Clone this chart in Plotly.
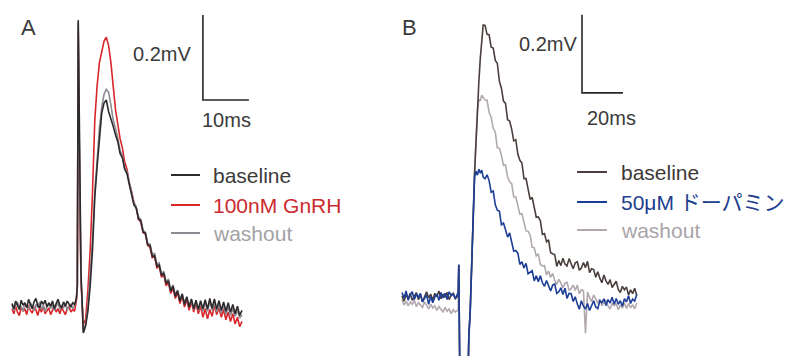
import numpy as np
import plotly.graph_objects as go

# ---------------- Panel A (ms, mV) ----------------
tA_base = np.round(np.arange(0.0, 13.61, 0.4), 2)          # 35 samples
tA_peak = [14.0, 14.2, 14.4, 14.7, 15.0, 15.5, 16.0, 16.5, 17.0, 17.5,
           18.0, 18.5, 19.0, 19.5, 20.0, 20.5, 21.0, 21.5, 22.0, 22.5]
tA_tail = np.round(np.arange(23.0, 50.01, 0.5), 2)         # 55 samples

A_baseline_base = [0.008, -0.004, 0.014, 0.002, -0.006,
                   0.016, 0.004, 0.010, -0.002, 0.018,
                   0.006, -0.004, 0.012, 0.020, 0.004,
                   -0.002, 0.014, 0.006, 0.016, 0.000,
                   0.010, 0.002, 0.014, -0.004, 0.008,
                   0.018, 0.004, -0.002, 0.012, 0.002,
                   0.014, 0.006, 0.000, 0.010, 0.006]
A_baseline_peak = [0.020, 0.050, 0.675, 0.300, 0.080, -0.061, -0.045, -0.010, 0.050, 0.134,
                   0.259, 0.330, 0.390, 0.456, 0.480, 0.487, 0.460, 0.445, 0.425, 0.405]
A_baseline_tail = [0.389, 0.361, 0.351, 0.324, 0.314,
                   0.288, 0.267, 0.240, 0.233, 0.207,
                   0.203, 0.176, 0.174, 0.146, 0.145,
                   0.119, 0.121, 0.096, 0.099, 0.074,
                   0.080, 0.055, 0.062, 0.037, 0.049,
                   0.025, 0.038, 0.014, 0.030, 0.006,
                   0.024, 0.000, 0.019, -0.004, 0.016,
                   -0.006, 0.015, -0.004, 0.017, -0.005,
                   0.020, -0.003, 0.019, -0.005, 0.015,
                   -0.008, 0.012, -0.010, 0.010, -0.012,
                   0.006, -0.016, 0.002, -0.020, -0.008]

A_gnrh_base = [-0.004, -0.016, 0.002, -0.012, -0.020,
               0.000, -0.010, -0.004, -0.018, 0.004,
               -0.008, -0.014, 0.000, -0.006, -0.020,
               -0.002, -0.012, 0.002, -0.016, -0.008,
               -0.002, -0.018, -0.006, 0.002, -0.012,
               -0.004, -0.016, 0.000, -0.010, -0.018,
               -0.004, 0.002, -0.012, -0.006, -0.010]
A_gnrh_peak = [0.015, 0.050, 0.650, 0.280, 0.060, -0.040, -0.030, 0.040, 0.134, 0.270,
               0.440, 0.520, 0.575, 0.600, 0.625, 0.635, 0.615, 0.575, 0.515, 0.465]
A_gnrh_tail = [0.430, 0.396, 0.374, 0.341, 0.324,
               0.291, 0.272, 0.246, 0.234, 0.206,
               0.200, 0.175, 0.171, 0.145, 0.140,
               0.116, 0.118, 0.092, 0.096, 0.070,
               0.076, 0.050, 0.058, 0.032, 0.044,
               0.020, 0.034, 0.008, 0.026, 0.000,
               0.018, -0.008, 0.012, -0.012, 0.008,
               -0.016, 0.002, -0.024, -0.004, -0.028,
               -0.006, -0.022, 0.004, -0.018, -0.002,
               -0.024, -0.006, -0.030, -0.012, -0.034,
               -0.016, -0.040, -0.024, -0.046, -0.034]

A_wash_base = [0.006, -0.008, 0.004, 0.012, -0.004,
               0.002, -0.010, 0.008, 0.000, -0.006,
               0.010, 0.002, -0.008, 0.006, -0.002,
               0.012, -0.006, 0.004, -0.010, 0.002,
               0.008, -0.004, 0.006, -0.008, 0.000,
               0.010, -0.006, 0.004, -0.002, 0.008,
               -0.008, 0.002, 0.006, -0.004, 0.004]
A_wash_peak = [0.020, 0.050, 0.670, 0.320, 0.070, -0.055, -0.040, 0.000, 0.070, 0.160,
               0.270, 0.350, 0.420, 0.470, 0.500, 0.512, 0.505, 0.475, 0.440, 0.420]
A_wash_tail = [0.398, 0.368, 0.356, 0.328, 0.318,
               0.294, 0.270, 0.246, 0.236, 0.212,
               0.206, 0.180, 0.176, 0.150, 0.148,
               0.124, 0.126, 0.100, 0.104, 0.078,
               0.084, 0.058, 0.066, 0.040, 0.052,
               0.028, 0.040, 0.016, 0.032, 0.008,
               0.022, 0.002, 0.016, -0.006, 0.012,
               -0.008, 0.010, -0.010, 0.012, -0.010,
               0.014, -0.008, 0.010, -0.012, 0.006,
               -0.014, 0.004, -0.018, 0.000, -0.020,
               -0.004, -0.022, -0.008, -0.026, -0.018]

# ---------------- Panel B (ms, mV) ----------------
tB_base = np.round(np.arange(0.0, 27.01, 1.0), 2)          # 28 samples
tB_peak = [27.4, 27.7, 28.0, 28.3, 32.0, 32.6, 33.3, 34.0,
           34.7, 35.4, 36.1, 36.8, 37.5, 38.2, 38.9, 39.6]
tB_tail = np.round(np.arange(40.5, 114.51, 1.0), 2)        # 75 samples

B_baseline_base = [0.006, -0.008, 0.010, -0.002, 0.012, -0.006, 0.004,
                   0.014, -0.004, 0.008, -0.010, 0.006, 0.016, 0.000,
                   0.010, -0.006, 0.012, 0.004, 0.018, -0.002, 0.010,
                   0.002, 0.014, -0.004, 0.008, 0.012, -0.002, 0.004]
B_baseline_peak = [0.004, 0.085, -0.250, -0.250, -0.250, -0.100, -0.030, 0.090,
                   0.230, 0.320, 0.400, 0.490, 0.555, 0.615, 0.660, 0.700]
B_baseline_tail = [0.699, 0.676, 0.675, 0.643, 0.641, 0.609, 0.602, 0.556, 0.538, 0.505,
                   0.499, 0.457, 0.454, 0.433, 0.403, 0.406, 0.369, 0.353, 0.346, 0.306,
                   0.306, 0.281, 0.253, 0.258, 0.228, 0.207, 0.208, 0.198, 0.163, 0.165,
                   0.144, 0.149, 0.116, 0.113, 0.111, 0.081, 0.096, 0.083, 0.102, 0.087,
                   0.082, 0.101, 0.090, 0.075, 0.090, 0.093, 0.071, 0.077, 0.091, 0.078,
                   0.094, 0.065, 0.075, 0.073, 0.053, 0.067, 0.051, 0.039, 0.059, 0.044,
                   0.035, 0.047, 0.027, 0.036, 0.043, 0.022, 0.014, 0.030, 0.021, 0.028,
                   0.008, 0.021, 0.011, 0.025, 0.007]

B_dopa_base = [0.014, 0.000, 0.018, -0.006, 0.008, 0.016, -0.004,
               0.010, 0.002, 0.012, -0.010, -0.002, 0.008, -0.016,
               0.004, -0.012, 0.002, 0.010, -0.006, 0.014, 0.000,
               0.012, -0.004, 0.016, 0.006, 0.010, -0.002, 0.010]
B_dopa_peak = [0.010, 0.085, -0.250, -0.250, -0.250, -0.100, -0.030, 0.090,
               0.230, 0.310, 0.325, 0.315, 0.330, 0.320, 0.328, 0.310]
B_dopa_tail = [0.306, 0.316, 0.301, 0.271, 0.274, 0.239, 0.225, 0.223, 0.188, 0.192,
               0.175, 0.156, 0.167, 0.139, 0.120, 0.122, 0.115, 0.086, 0.093, 0.077,
               0.089, 0.062, 0.066, 0.070, 0.044, 0.057, 0.042, 0.057, 0.039, 0.030,
               0.045, 0.033, 0.018, 0.033, 0.036, 0.012, 0.016, 0.026, 0.009, 0.025,
               -0.001, 0.012, 0.011, -0.009, 0.003, -0.015, -0.029, -0.007, -0.021, -0.028,
               -0.014, -0.032, -0.018, -0.007, -0.023, -0.027, -0.007, -0.012, -0.002, -0.019,
               -0.004, -0.013, 0.002, -0.016, -0.001, -0.016, -0.007, -0.021, -0.002, -0.010,
               0.006, -0.014, -0.003, -0.008, 0.009]

B_wash_base = [-0.004, -0.018, -0.008, -0.020, -0.010, -0.016, -0.006,
               -0.022, -0.012, -0.018, -0.024, -0.010, -0.020, -0.028,
               -0.016, -0.026, -0.020, -0.032, -0.022, -0.030, -0.036,
               -0.024, -0.034, -0.028, -0.040, -0.030, -0.036, -0.032]
B_wash_peak = [-0.032, 0.085, -0.250, -0.250, -0.250, -0.100, -0.030, 0.090,
               0.230, 0.320, 0.400, 0.480, 0.510, 0.505, 0.520, 0.515]
B_wash_tail = [0.508, 0.507, 0.476, 0.463, 0.435, 0.425, 0.385, 0.384, 0.366, 0.340,
               0.341, 0.311, 0.298, 0.293, 0.259, 0.259, 0.238, 0.215, 0.216, 0.190,
               0.172, 0.171, 0.161, 0.130, 0.129, 0.108, 0.113, 0.086, 0.082, 0.083,
               0.059, 0.069, 0.053, 0.063, 0.045, 0.035, 0.048, 0.038, 0.026, 0.038,
               0.040, 0.020, 0.024, 0.033, 0.019, 0.033, 0.011, 0.021, 0.019, -0.090,
               0.015, 0.001, -0.009, 0.008, -0.005, -0.013, -0.003, -0.020, -0.011, -0.005,
               -0.021, -0.028, -0.014, -0.020, -0.014, -0.030, -0.018, -0.026, -0.012, -0.027,
               -0.014, -0.025, -0.017, -0.028, -0.013]

# scale bars (ms, mV)
A_scale_t, A_scale_v = 10, 0.2
B_scale_t, B_scale_v = 20, 0.2

legend_A = ["baseline", "100nM GnRH", "washout"]
legend_B = ["baseline", "50μM ドーパミン", "washout"]

colA = {"baseline": "#2e292c", "gnrh": "#d9262b", "wash": "#8e8a92"}
colB = {"baseline": "#4a3f3c", "dopa": "#1d3e97", "wash": "#b2a9af"}

W, H = 787, 356
FONT = "Liberation Sans, Arial, Noto Sans CJK JP, sans-serif"


def px(x):
    return x / W


def py(y):
    return 1 - y / H


tA = list(tA_base) + tA_peak + list(tA_tail)
tB = list(tB_base) + tB_peak + list(tB_tail)

fig = go.Figure()


def trace(t, v, color, xa, ya, w=1.6):
    fig.add_trace(go.Scatter(x=t, y=v, mode="lines", xaxis=xa, yaxis=ya,
                             line=dict(color=color, width=w), showlegend=False,
                             hoverinfo="skip"))


trace(tA, A_gnrh_base + A_gnrh_peak + A_gnrh_tail, colA["gnrh"], "x", "y")
trace(tA, A_wash_base + A_wash_peak + A_wash_tail, colA["wash"], "x", "y")
trace(tA, A_baseline_base + A_baseline_peak + A_baseline_tail, colA["baseline"], "x", "y")

trace(tB, B_wash_base + B_wash_peak + B_wash_tail, colB["wash"], "x2", "y2")
trace(tB, B_baseline_base + B_baseline_peak + B_baseline_tail, colB["baseline"], "x2", "y2")
trace(tB, B_dopa_base + B_dopa_peak + B_dopa_tail, colB["dopa"], "x2", "y2")

# scale bars
a_t0, a_v0 = 41.5, 0.487
fig.add_trace(go.Scatter(x=[a_t0, a_t0, a_t0 + A_scale_t], y=[a_v0 + A_scale_v, a_v0, a_v0],
                         mode="lines", line=dict(color="#2a2626", width=1.6),
                         xaxis="x", yaxis="y", showlegend=False, hoverinfo="skip"))
b_t0, b_v0 = 87.8, 0.526
fig.add_trace(go.Scatter(x=[b_t0, b_t0, b_t0 + B_scale_t], y=[b_v0 + B_scale_v, b_v0, b_v0],
                         mode="lines", line=dict(color="#2a2626", width=1.6),
                         xaxis="x2", yaxis="y2", showlegend=False, hoverinfo="skip"))

ann = []


def text(x, y, s, color="#3a3a3a", size=20, anchor="center"):
    ann.append(dict(x=px(x), y=py(y), xref="paper", yref="paper", text=s,
                    showarrow=False, xanchor=anchor, yanchor="middle",
                    font=dict(family=FONT, size=size, color=color)))


text(29, 27, "A", size=22)
text(409, 27, "B", size=22)
text(162, 54, "0.2mV")
text(226, 120, "10ms")
text(548, 44, "0.2mV")
text(611, 118, "20ms")

shapes = []
legA_y = [175, 205, 233]
legA_c = [colA["baseline"], colA["gnrh"], colA["wash"]]
legA_tc = ["#3a3a3a", "#cc2a2f", "#a2a2a6"]
for lab, y, c, tc in zip(legend_A, legA_y, legA_c, legA_tc):
    shapes.append(dict(type="line", xref="paper", yref="paper", x0=px(171), x1=px(200),
                       y0=py(y), y1=py(y), line=dict(color=c, width=2)))
    text(211, y, lab, color=tc, size=21, anchor="left")

legB_y = [172, 202, 230]
legB_c = [colB["baseline"], colB["dopa"], colB["wash"]]
legB_tc = ["#3d3836", "#223e8e", "#a8a4a8"]
for lab, y, c, tc in zip(legend_B, legB_y, legB_c, legB_tc):
    shapes.append(dict(type="line", xref="paper", yref="paper", x0=px(577), x1=px(607),
                       y0=py(y), y1=py(y), line=dict(color=c, width=2)))
    text(619, y, lab, color=tc, size=21, anchor="left")

ax_common = dict(visible=False, showgrid=False, zeroline=False, fixedrange=True)
fig.update_layout(
    width=W, height=H,
    margin=dict(l=0, r=0, t=0, b=0),
    paper_bgcolor="white", plot_bgcolor="white",
    xaxis=dict(domain=[0, px(390)], range=[-12 / 4.6, (390 - 12) / 4.6], **ax_common),
    yaxis=dict(domain=[0, 1], range=[(307 - 356) / 425, 307 / 425], **ax_common),
    xaxis2=dict(domain=[px(390), 1], range=[(390 - 402) / 2.05, (787 - 402) / 2.05],
                anchor="y2", **ax_common),
    yaxis2=dict(domain=[0, 1], range=[(298 - 356) / 390, 298 / 390], anchor="x2", **ax_common),
    annotations=ann, shapes=shapes,
    showlegend=False,
)

fig.write_html("out.html", config={"displayModeBar": False})

# remove the browser's default page margin so the figure sits at the top-left corner
with open("out.html", encoding="utf-8") as f:
    html = f.read()
html = html.replace("<head>", "<head><style>html,body{margin:0;padding:0;overflow:hidden;}</style>", 1)
with open("out.html", "w", encoding="utf-8") as f:
    f.write(html)
